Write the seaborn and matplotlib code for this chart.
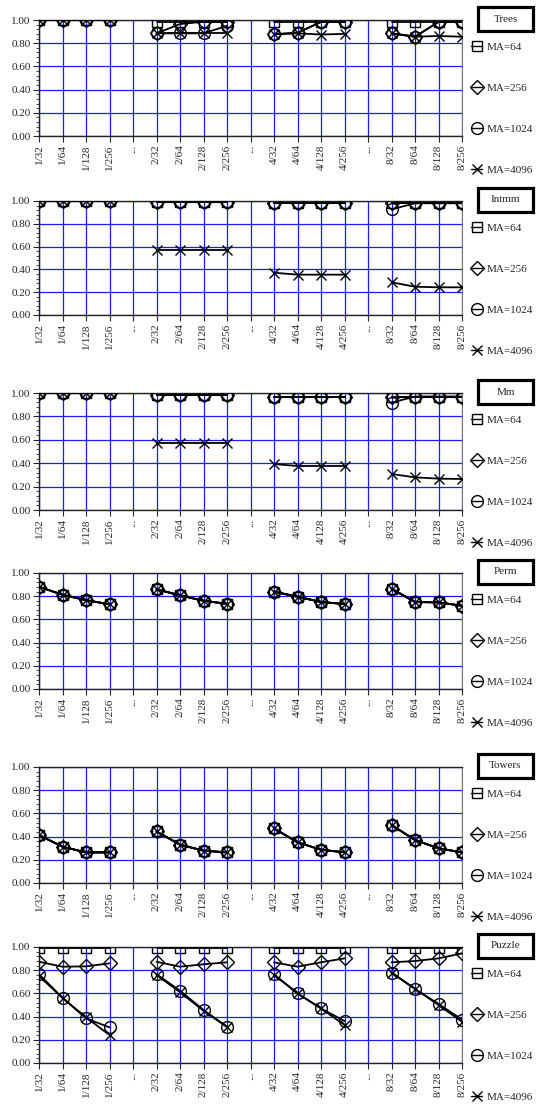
import pandas as pd
import numpy as np
import matplotlib
matplotlib.use('Agg')
import matplotlib.pyplot as plt
from matplotlib.lines import Line2D
from matplotlib.patches import Rectangle
from matplotlib.ticker import MultipleLocator, FormatStrFormatter
import seaborn as sns

# x categories (the "..." slots separate the groups)
categories = ['1/32', '1/64', '1/128', '1/256', '...',
              '2/32', '2/64', '2/128', '2/256', '...',
              '4/32', '4/64', '4/128', '4/256', '...',
              '8/32', '8/64', '8/128', '8/256']
prefixes = [1, 2, 4, 8]
sizes = [32, 64, 128, 256]
series_names = ['MA=64', 'MA=256', 'MA=1024', 'MA=4096']
panel_names = ['Trees', 'Intmm', 'Mm', 'Perm', 'Towers', 'Puzzle']

# values in order 1/32..1/256, 2/32..2/256, 4/32..4/256, 8/32..8/256
trees_64 = [1.0, 1.0, 1.0, 1.0, 0.985, 0.985, 0.985, 0.985, 0.98, 0.98, 0.98, 0.98, 0.98, 0.98, 0.98, 0.98]
trees_256 = [1.0, 1.0, 1.0, 1.0, 0.885, 0.965, 0.985, 0.985, 0.877, 0.89, 0.983, 0.983, 0.885, 0.856, 0.983, 0.983]
trees_1024 = [1.0, 1.0, 1.0, 1.0, 0.885, 0.885, 0.885, 0.95, 0.877, 0.89, 0.983, 0.983, 0.885, 0.856, 0.983, 0.983]
trees_4096 = [1.0, 1.0, 1.0, 1.0, 0.885, 0.885, 0.885, 0.885, 0.877, 0.885, 0.875, 0.88, 0.885, 0.856, 0.862, 0.856]

intmm_64 = [1.0, 1.0, 1.0, 1.0, 0.99, 0.99, 0.99, 0.99, 0.98, 0.98, 0.98, 0.98, 0.98, 0.98, 0.98, 0.98]
intmm_256 = [1.0, 1.0, 1.0, 1.0, 0.99, 0.99, 0.99, 0.99, 0.98, 0.98, 0.98, 0.98, 0.98, 0.98, 0.98, 0.98]
intmm_1024 = [1.0, 1.0, 1.0, 1.0, 0.99, 0.99, 0.99, 0.99, 0.98, 0.98, 0.98, 0.98, 0.927, 0.98, 0.98, 0.98]
intmm_4096 = [1.0, 1.0, 1.0, 1.0, 0.57, 0.57, 0.57, 0.57, 0.371, 0.354, 0.354, 0.354, 0.287, 0.248, 0.243, 0.243]

mm_64 = [1.0, 1.0, 1.0, 1.0, 0.98, 0.98, 0.98, 0.98, 0.97, 0.97, 0.97, 0.97, 0.97, 0.97, 0.97, 0.97]
mm_256 = [1.0, 1.0, 1.0, 1.0, 0.98, 0.98, 0.98, 0.98, 0.97, 0.97, 0.97, 0.97, 0.97, 0.97, 0.97, 0.97]
mm_1024 = [1.0, 1.0, 1.0, 1.0, 0.98, 0.98, 0.98, 0.98, 0.97, 0.97, 0.97, 0.97, 0.917, 0.97, 0.97, 0.97]
mm_4096 = [1.0, 1.0, 1.0, 1.0, 0.575, 0.575, 0.575, 0.575, 0.393, 0.376, 0.376, 0.376, 0.308, 0.279, 0.268, 0.265]

perm_64 = [0.882, 0.813, 0.767, 0.73, 0.86, 0.808, 0.761, 0.735, 0.839, 0.796, 0.75, 0.733, 0.865, 0.75, 0.747, 0.718]
perm_256 = [0.88, 0.812, 0.765, 0.73, 0.858, 0.807, 0.76, 0.734, 0.838, 0.795, 0.75, 0.732, 0.864, 0.75, 0.746, 0.718]
perm_1024 = [0.881, 0.812, 0.766, 0.729, 0.859, 0.808, 0.761, 0.734, 0.839, 0.796, 0.749, 0.733, 0.865, 0.749, 0.747, 0.717]
perm_4096 = [0.882, 0.813, 0.766, 0.73, 0.86, 0.807, 0.76, 0.735, 0.84, 0.796, 0.75, 0.733, 0.866, 0.75, 0.747, 0.718]

towers_64 = [0.414, 0.313, 0.264, 0.264, 0.445, 0.33, 0.279, 0.264, 0.471, 0.351, 0.287, 0.264, 0.5, 0.371, 0.299, 0.264]
towers_256 = [0.413, 0.312, 0.264, 0.265, 0.444, 0.33, 0.278, 0.264, 0.47, 0.35, 0.287, 0.265, 0.499, 0.37, 0.298, 0.264]
towers_1024 = [0.414, 0.313, 0.263, 0.264, 0.445, 0.331, 0.279, 0.263, 0.471, 0.351, 0.286, 0.264, 0.5, 0.371, 0.299, 0.263]
towers_4096 = [0.414, 0.313, 0.264, 0.264, 0.445, 0.33, 0.279, 0.264, 0.471, 0.351, 0.287, 0.264, 0.5, 0.371, 0.299, 0.264]

puzzle_64 = [0.99, 0.99, 0.99, 0.99, 0.99, 0.99, 0.99, 0.99, 0.99, 0.99, 0.99, 0.99, 0.99, 0.99, 0.99, 0.99]
puzzle_256 = [0.873, 0.83, 0.833, 0.859, 0.873, 0.83, 0.851, 0.868, 0.868, 0.83, 0.868, 0.902, 0.868, 0.879, 0.902, 0.945]
puzzle_1024 = [0.765, 0.563, 0.385, 0.307, 0.765, 0.624, 0.457, 0.313, 0.765, 0.6, 0.471, 0.362, 0.779, 0.638, 0.509, 0.375]
puzzle_4096 = [0.75, 0.56, 0.394, 0.241, 0.76, 0.61, 0.45, 0.31, 0.76, 0.6, 0.47, 0.328, 0.78, 0.64, 0.5, 0.356]

panel_values = [
    [trees_64, trees_256, trees_1024, trees_4096],
    [intmm_64, intmm_256, intmm_1024, intmm_4096],
    [mm_64, mm_256, mm_1024, mm_4096],
    [perm_64, perm_256, perm_1024, perm_4096],
    [towers_64, towers_256, towers_1024, towers_4096],
    [puzzle_64, puzzle_256, puzzle_1024, puzzle_4096],
]

# long table
rows = []
for p_i, panel in enumerate(panel_names):
    for s_i, name in enumerate(series_names):
        vals = panel_values[p_i][s_i]
        for g_i, pref in enumerate(prefixes):
            for k_i, sz in enumerate(sizes):
                lab = f'{pref}/{sz}'
                rows.append({'panel': panel, 'series': name, 'seg': pref,
                             'pos': categories.index(lab), 'value': vals[g_i * 4 + k_i]})
df = pd.DataFrame(rows)

sns.set_style('ticks')
plt.rcParams['font.family'] = ['Liberation Serif', 'DejaVu Serif']
plt.rcParams['font.size'] = 8

W, H = 536, 1105
fig = plt.figure(figsize=(W / 100, H / 100), dpi=100)

markers = ['s', 'D', 'o', 'x']
msizes = [7, 7, 8.5, 7.5]
panel_px = [(20, 136), (201, 315), (393, 510), (573, 689), (767, 883), (947, 1063)]
ax_left, ax_right = 39, 462

for p_i, panel in enumerate(panel_names):
    top, bot = panel_px[p_i]
    ax = fig.add_axes([ax_left / W, 1 - bot / H, (ax_right - ax_left) / W, (bot - top) / H])
    sub = df[df['panel'] == panel]
    for s_i, name in enumerate(series_names):
        sns.lineplot(data=sub[sub['series'] == name], x='pos', y='value', units='seg',
                     estimator=None, color='black', marker=markers[s_i], markersize=msizes[s_i],
                     mfc='none', mec='black', mew=1.0, lw=1.3, ax=ax, zorder=3)
    ax.set_xlim(0, len(categories) - 1)
    ax.set_ylim(0, 1)
    ax.set_xticks(range(len(categories)))
    ax.set_xticklabels(categories, rotation=90, fontsize=8)
    ax.yaxis.set_major_locator(MultipleLocator(0.2))
    ax.yaxis.set_minor_locator(MultipleLocator(0.04))
    ax.yaxis.set_major_formatter(FormatStrFormatter('%.2f'))
    ax.tick_params(axis='y', labelsize=8, length=4, width=0.8, pad=2)
    ax.tick_params(axis='y', which='minor', length=2.5, width=0.6)
    ax.tick_params(axis='x', length=4, width=0.8, pad=2)
    ax.grid(True, which='major', color='#1a1aff', lw=0.9)
    ax.set_axisbelow(True)
    ax.set_xlabel('')
    ax.set_ylabel('')
    for side in ['top', 'bottom', 'left']:
        ax.spines[side].set_color('#222222')
        ax.spines[side].set_linewidth(1.0)
    ax.spines['right'].set_color('#777777')

    # panel title box
    fig.patches.append(Rectangle((478 / W, 1 - (top + 11) / H), 55 / W, 24 / H,
                                 transform=fig.transFigure, fc='white', ec='black', lw=2.3))
    fig.text(505.5 / W, 1 - (top - 1) / H, panel, ha='center', va='center', fontsize=8)

    handles = [Line2D([], [], color='black', marker=markers[i], markersize=msizes[i],
                      mfc='none', mec='black', lw=1.0) for i in range(4)]
    ax.legend(handles, series_names, loc='upper left', frameon=False,
              bbox_to_anchor=(471 / W, 1 - (top + 22.5) / H), bbox_transform=fig.transFigure,
              borderpad=0, borderaxespad=0, handlelength=1.0, handletextpad=0.4,
              labelspacing=2.8, fontsize=8)

fig.savefig('out.png', dpi=100)
